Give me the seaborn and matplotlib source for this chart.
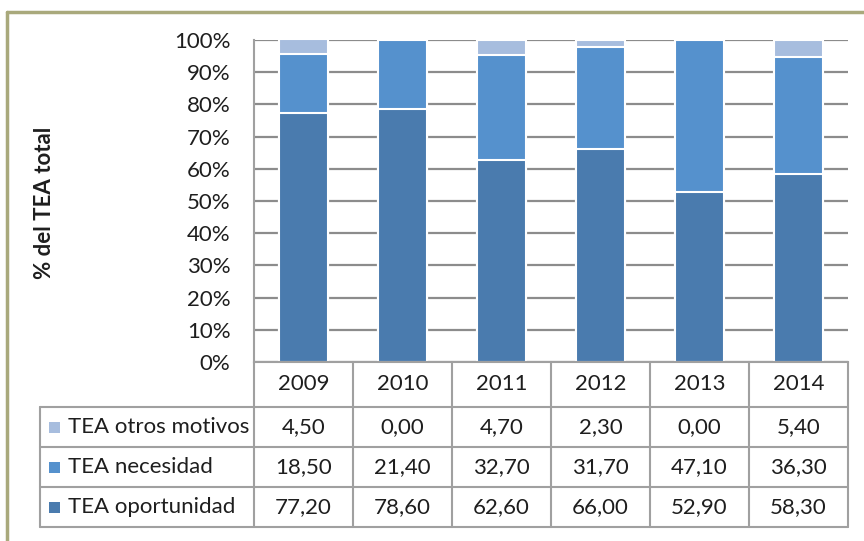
import matplotlib
matplotlib.use("Agg")
import matplotlib.pyplot as plt
import seaborn as sns
import pandas as pd
from matplotlib.lines import Line2D
from matplotlib.patches import Rectangle
from matplotlib.transforms import blended_transform_factory

years = ["2009", "2010", "2011", "2012", "2013", "2014"]
otros = [4.50, 0.00, 4.70, 2.30, 0.00, 5.40]
necesidad = [18.50, 21.40, 32.70, 31.70, 47.10, 36.30]
oportunidad = [77.20, 78.60, 62.60, 66.00, 52.90, 58.30]
row_labels = ["TEA otros motivos", "TEA necesidad", "TEA oportunidad"]
colors = ["#A7BDDE", "#5591CD", "#4A7BAE"]

sns.set_theme(style="white")
plt.rcParams["font.family"] = ["Lato", "DejaVu Sans"]

W, H = 864, 541
fig = plt.figure(figsize=(W / 100, H / 100), dpi=100)


def fx(x):
    return x / W


def fy(y):
    return 1 - y / H


ax = fig.add_axes([fx(254), fy(362), fx(848) - fx(254), fy(40) - fy(362)])

df = pd.DataFrame({"year": years, "otros": otros,
                   "necesidad": necesidad, "oportunidad": oportunidad})
df["mid"] = df["oportunidad"] + df["necesidad"]
df["top"] = df["mid"] + df["otros"]

# stacked bars drawn as overlapping cumulative layers
for col, c in [("top", colors[0]), ("mid", colors[1]), ("oportunidad", colors[2])]:
    sns.barplot(data=df, x="year", y=col, color=c, saturation=1, width=0.505,
                edgecolor="white", linewidth=1.5, ax=ax)

text_col = "#1e1e1e"
grid_col = "#8c8c8c"
fs = 16

ax.set_ylim(0, 100)
ax.set_yticks(range(0, 101, 10))
ax.set_yticklabels([f"{v}%" for v in range(0, 101, 10)], fontsize=fs, color=text_col)
ax.tick_params(axis="y", length=0, pad=17)
ax.tick_params(axis="x", length=0, labelbottom=False)
ax.set_xlabel("")
ax.set_ylabel("")
ax.yaxis.grid(True, color=grid_col, linewidth=1.6)
ax.set_axisbelow(True)
for s in ["top", "right"]:
    ax.spines[s].set_visible(False)
for s in ["left", "bottom"]:
    ax.spines[s].set_color("#a0a0a0")
    ax.spines[s].set_linewidth(1.5)

fig.text(fx(45), fy(203), "% del TEA total", rotation=90, fontsize=fs,
         fontweight="bold", color=text_col, ha="center", va="center")

# data table under the axis
line_col = "#a0a0a0"
trans = blended_transform_factory(ax.transData, fig.transFigure)
row_y = [362, 407, 447, 487, 527]
x_left, x_axis, x_right = 40, 254, 848


def hline(y, x0, x1):
    fig.add_artist(Line2D([fx(x0), fx(x1)], [fy(y), fy(y)], color=line_col, lw=1.5))


def vline(x, y0, y1):
    fig.add_artist(Line2D([fx(x), fx(x)], [fy(y0), fy(y1)], color=line_col, lw=1.5))


for y in row_y[1:]:
    hline(y, x_left, x_right)
vline(x_left, row_y[1], row_y[-1])
for i in range(len(years) + 1):
    xb = x_axis + i * (x_right - x_axis) / len(years)
    vline(xb, row_y[0], row_y[-1])

for i, yr in enumerate(years):
    fig.text(i, fy((row_y[0] + row_y[1]) / 2), yr, transform=trans, fontsize=fs,
             color=text_col, ha="center", va="center")

for r, (lab, vals, c) in enumerate(zip(row_labels, [otros, necesidad, oportunidad], colors)):
    yc = (row_y[r + 1] + row_y[r + 2]) / 2
    fig.add_artist(Rectangle((fx(49), fy(yc + 5.5)), fx(11), 11 / H,
                             facecolor=c, edgecolor="none", transform=fig.transFigure))
    fig.text(fx(68), fy(yc), lab, fontsize=fs, color=text_col, ha="left", va="center")
    for i, v in enumerate(vals):
        fig.text(i, fy(yc), f"{v:.2f}".replace(".", ","), transform=trans,
                 fontsize=fs, color=text_col, ha="center", va="center")

# olive frame on left and top
frame_col = "#A9A97C"
fig.add_artist(Line2D([fx(7), fx(7)], [fy(12), 0], color=frame_col, lw=2.5))
fig.add_artist(Line2D([fx(7), 1], [fy(12), fy(12)], color=frame_col, lw=2.5))

fig.savefig("out.png", dpi=100)
